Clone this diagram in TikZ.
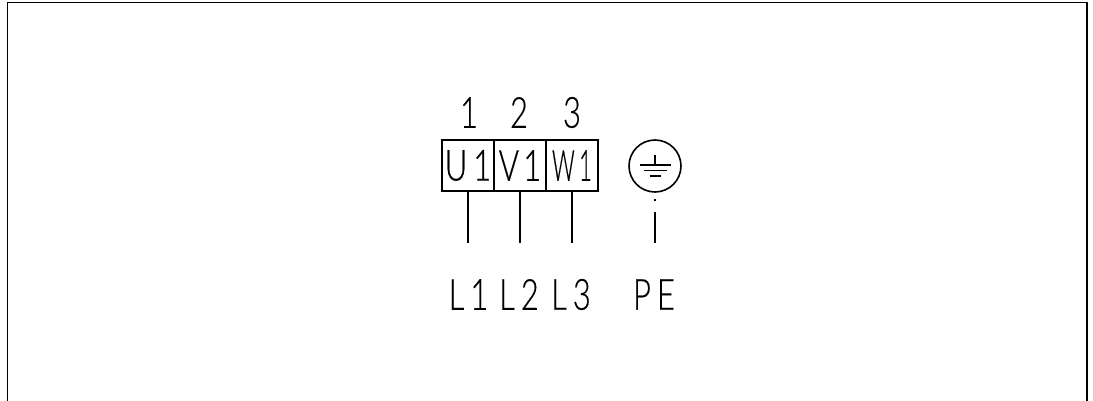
\documentclass[tikz,border=0pt]{standalone}
\usepackage{fontspec}
\usetikzlibrary{calc}
\setmainfont{Lato}[UprightFont=* Light,FakeStretch=0.72,LetterSpace=14,FakeBold=0.35]
\begin{document}
\begin{tikzpicture}[x=1pt,y=-1pt,
  ink/.style={line width=1.6pt,draw=black},
  lbl/.style={inner sep=0pt,font=\fontsize{43}{43}\selectfont,text=black,anchor=center},
  term/.style={ink,rectangle,inner sep=0pt,minimum height=51pt,font=\fontsize{43}{43}\selectfont}
]
\useasboundingbox (0,0) rectangle (1093,401);
\draw[ink] (7.5,401) -- (7.5,2.5) -- (1087,2.5) -- (1087,401);
\node[term,minimum width=52pt] (u) at (468,165.5) {U1};
\node[term,minimum width=52pt] (v) at (520,165.5) {\addfontfeature{LetterSpace=10}V1};
\node[term,minimum width=52pt] (w) at (572,165.5) {\addfontfeature{FakeStretch=0.52,LetterSpace=10}W1};
\node[lbl] (n1) at (469,112.5) {1};
\node[lbl] (n2) at (519,112.5) {2};
\node[lbl] (n3) at (572,112.5) {3};
\node[ink,circle,minimum size=52pt,inner sep=0pt] (pe) at (655,166) {};
\coordinate (g) at (655,155);
\coordinate (g1) at (655,165);
\draw[ink] (g) -- (g1);
\draw[ink] ($(g1)+(-15.5,0)$) -- ($(g1)+(15.5,0)$);
\draw[ink] ($(g1)+(-11.5,5.5)$) -- ($(g1)+(11.5,5.5)$);
\draw[ink] ($(g1)+(-5.5,11)$) -- ($(g1)+(5.5,11)$);
\coordinate (ue) at (468,243);
\coordinate (ve) at (520,243);
\coordinate (we) at (572,243);
\coordinate (pt) at (655,212);
\coordinate (pb) at (655,243);
\coordinate (d1) at (655,199.5);
\coordinate (d2) at (655,201);
\draw[ink] (u.south) -- (ue);
\draw[ink] (v.south) -- (ve);
\draw[ink] (w.south) -- (we);
\draw[ink] (pt) -- (pb);
\draw[ink] (d1) -- (d2);
\node[lbl] (l1) at (468.5,294.5) {L1};
\node[lbl] (l2) at (519,294.5) {L2};
\node[lbl] (l3) at (571,294.5) {L3};
\node[lbl] (pl) at (654,294.5) {PE};
\end{tikzpicture}
\end{document}
